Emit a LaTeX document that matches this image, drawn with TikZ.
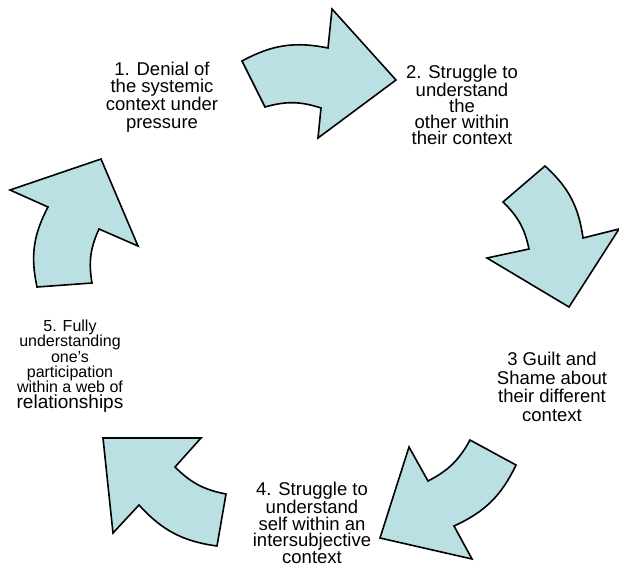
\documentclass[tikz,border=0pt]{standalone}
\usepackage{fontspec}
\setmainfont{Liberation Sans}
\definecolor{arrowfill}{RGB}{187,224,227}
\begin{document}
\begin{tikzpicture}[x=1pt,y=-1pt,
    cyclearrow/.style={draw=black,line width=1.6pt,fill=arrowfill,line join=miter},
    steptext/.style={align=center,inner sep=0pt,font=\fontsize{18.5}{17.8}\selectfont}]
      \useasboundingbox (0,0) rectangle (619,574);
      \node[steptext] (denial) at (162,97) {1. Denial of\\the systemic\\context under\\pressure};
      \node[steptext,font=\fontsize{18.5}{16}\selectfont] (other) at (462,105) {2. Struggle to\\understand\\the\\other within\\their context};
      \node[steptext,font=\fontsize{18.5}{18.7}\selectfont] (guilt) at (552,387) {3 Guilt and\\Shame about\\their different\\context};
      \node[steptext,font=\fontsize{18.5}{16.5}\selectfont] (self) at (312,523) {4. Struggle to\\understand\\self within an\\intersubjective\\context};
      \node[steptext,font=\fontsize{16}{15.3}\selectfont] (web) at (70,366) {5. Fully\\understanding\\one’s\\participation\\within a web of\\\fontsize{19}{17}\selectfont relationships};
      \draw[cyclearrow] (242,61) to[bend left=20] (328,48) -- (332,9) -- (396,80) -- (318,138) -- (321,108) to[bend right=17] (265,107) -- cycle;
      \draw[cyclearrow] (545,166) to[bend left=20] (583,238) -- (619,229) -- (569,307) -- (487,258) -- (529,249) to[bend right=17] (503,202) -- cycle;
      \draw[cyclearrow] (470,440) -- (516,465) to[bend left=20] (454,526) -- (472,559) -- (380,538) -- (409,447) -- (428,481) to[bend right=17] cycle;
      \draw[cyclearrow] (226,494) -- (217,546) to[bend left=20] (139,505) -- (113,533) -- (103,438) -- (201,438) -- (175,467) to[bend right=17] cycle;
      \draw[cyclearrow] (92,283) -- (37,287) to[bend left=20] (48,207) -- (10,190) -- (101,159) -- (138,246) -- (99,229) to[bend right=17] cycle;
    \end{tikzpicture}
\end{document}
